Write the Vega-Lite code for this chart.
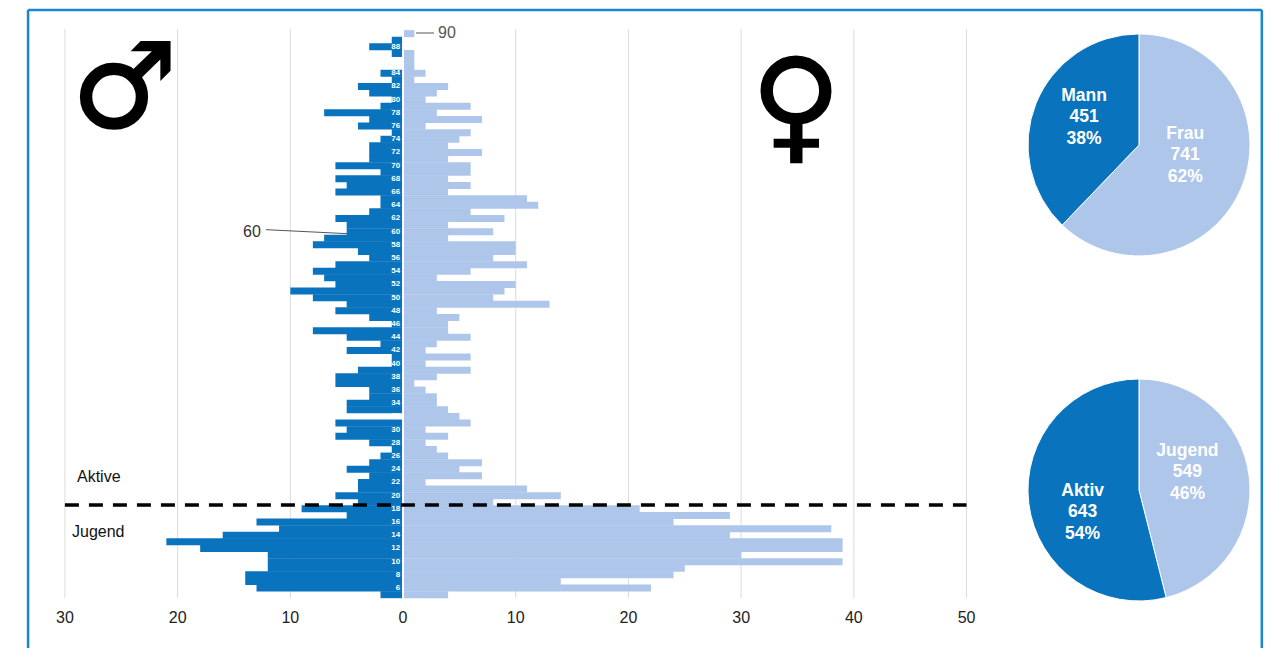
{"$schema":"https://vega.github.io/schema/vega-lite/v6.json","width":1266,"height":648,"padding":0,"autosize":"none","background":"white",
"config":{"view":{"stroke":null},"font":"Liberation Sans"},
"datasets":{
"ticks":[{"tick":-30,"label":"30"},{"tick":-20,"label":"20"},{"tick":-10,"label":"10"},{"tick":0,"label":"0"},{"tick":10,"label":"10"},{"tick":20,"label":"20"},{"tick":30,"label":"30"},{"tick":40,"label":"40"},{"tick":50,"label":"50"}],
"pies":[{"pie":"Geschlecht","rank":1,"group":"Frau","count":741,"label":"Frau\n741\n62%"},{"pie":"Geschlecht","rank":2,"group":"Mann","count":451,"label":"Mann\n451\n38%"},{"pie":"Alter","rank":1,"group":"Jugend","count":549,"label":"Jugend\n549\n46%"},{"pie":"Alter","rank":2,"group":"Aktiv","count":643,"label":"Aktiv\n643\n54%"}],
"ages":[
{"age":5,"sex":"Mann","value":-2},{"age":6,"sex":"Mann","value":-13},{"age":7,"sex":"Mann","value":-14},{"age":8,"sex":"Mann","value":-14},{"age":9,"sex":"Mann","value":-12},{"age":10,"sex":"Mann","value":-12},{"age":11,"sex":"Mann","value":-12},{"age":12,"sex":"Mann","value":-18},{"age":13,"sex":"Mann","value":-21},{"age":14,"sex":"Mann","value":-16},{"age":15,"sex":"Mann","value":-11},{"age":16,"sex":"Mann","value":-13},{"age":17,"sex":"Mann","value":-5},{"age":18,"sex":"Mann","value":-9},{"age":19,"sex":"Mann","value":-4},{"age":20,"sex":"Mann","value":-6},{"age":21,"sex":"Mann","value":-4},{"age":22,"sex":"Mann","value":-4},{"age":23,"sex":"Mann","value":-3},{"age":24,"sex":"Mann","value":-5},{"age":25,"sex":"Mann","value":-3},{"age":26,"sex":"Mann","value":-2},{"age":27,"sex":"Mann","value":-1},{"age":28,"sex":"Mann","value":-3},{"age":29,"sex":"Mann","value":-6},{"age":30,"sex":"Mann","value":-5},{"age":31,"sex":"Mann","value":-6},{"age":32,"sex":"Mann","value":0},{"age":33,"sex":"Mann","value":-5},{"age":34,"sex":"Mann","value":-5},{"age":35,"sex":"Mann","value":-3},{"age":36,"sex":"Mann","value":-3},{"age":37,"sex":"Mann","value":-6},{"age":38,"sex":"Mann","value":-6},{"age":39,"sex":"Mann","value":-4},{"age":40,"sex":"Mann","value":-1},{"age":41,"sex":"Mann","value":-1},{"age":42,"sex":"Mann","value":-5},{"age":43,"sex":"Mann","value":-2},{"age":44,"sex":"Mann","value":-5},{"age":45,"sex":"Mann","value":-8},{"age":46,"sex":"Mann","value":-1},{"age":47,"sex":"Mann","value":-3},{"age":48,"sex":"Mann","value":-6},{"age":49,"sex":"Mann","value":-5},{"age":50,"sex":"Mann","value":-8},{"age":51,"sex":"Mann","value":-10},{"age":52,"sex":"Mann","value":-6},{"age":53,"sex":"Mann","value":-7},{"age":54,"sex":"Mann","value":-8},{"age":55,"sex":"Mann","value":-6},{"age":56,"sex":"Mann","value":-3},{"age":57,"sex":"Mann","value":-4},{"age":58,"sex":"Mann","value":-8},{"age":59,"sex":"Mann","value":-7},{"age":60,"sex":"Mann","value":-5},{"age":61,"sex":"Mann","value":-5},{"age":62,"sex":"Mann","value":-6},{"age":63,"sex":"Mann","value":-3},{"age":64,"sex":"Mann","value":-2},{"age":65,"sex":"Mann","value":-2},{"age":66,"sex":"Mann","value":-6},{"age":67,"sex":"Mann","value":-5},{"age":68,"sex":"Mann","value":-6},{"age":69,"sex":"Mann","value":-2},{"age":70,"sex":"Mann","value":-6},{"age":71,"sex":"Mann","value":-3},{"age":72,"sex":"Mann","value":-3},{"age":73,"sex":"Mann","value":-3},{"age":74,"sex":"Mann","value":-2},{"age":75,"sex":"Mann","value":-1},{"age":76,"sex":"Mann","value":-4},{"age":77,"sex":"Mann","value":-3},{"age":78,"sex":"Mann","value":-7},{"age":79,"sex":"Mann","value":-2},{"age":80,"sex":"Mann","value":-1},{"age":81,"sex":"Mann","value":-3},{"age":82,"sex":"Mann","value":-4},{"age":83,"sex":"Mann","value":-1},{"age":84,"sex":"Mann","value":-2},{"age":85,"sex":"Mann","value":0},{"age":86,"sex":"Mann","value":0},{"age":87,"sex":"Mann","value":-1},{"age":88,"sex":"Mann","value":-3},{"age":89,"sex":"Mann","value":-1},{"age":90,"sex":"Mann","value":0},
{"age":5,"sex":"Frau","value":4},{"age":6,"sex":"Frau","value":22},{"age":7,"sex":"Frau","value":14},{"age":8,"sex":"Frau","value":24},{"age":9,"sex":"Frau","value":25},{"age":10,"sex":"Frau","value":39},{"age":11,"sex":"Frau","value":30},{"age":12,"sex":"Frau","value":39},{"age":13,"sex":"Frau","value":39},{"age":14,"sex":"Frau","value":29},{"age":15,"sex":"Frau","value":38},{"age":16,"sex":"Frau","value":24},{"age":17,"sex":"Frau","value":29},{"age":18,"sex":"Frau","value":21},{"age":19,"sex":"Frau","value":8},{"age":20,"sex":"Frau","value":14},{"age":21,"sex":"Frau","value":11},{"age":22,"sex":"Frau","value":2},{"age":23,"sex":"Frau","value":7},{"age":24,"sex":"Frau","value":5},{"age":25,"sex":"Frau","value":7},{"age":26,"sex":"Frau","value":4},{"age":27,"sex":"Frau","value":3},{"age":28,"sex":"Frau","value":2},{"age":29,"sex":"Frau","value":4},{"age":30,"sex":"Frau","value":2},{"age":31,"sex":"Frau","value":6},{"age":32,"sex":"Frau","value":5},{"age":33,"sex":"Frau","value":4},{"age":34,"sex":"Frau","value":3},{"age":35,"sex":"Frau","value":3},{"age":36,"sex":"Frau","value":2},{"age":37,"sex":"Frau","value":1},{"age":38,"sex":"Frau","value":3},{"age":39,"sex":"Frau","value":6},{"age":40,"sex":"Frau","value":2},{"age":41,"sex":"Frau","value":6},{"age":42,"sex":"Frau","value":2},{"age":43,"sex":"Frau","value":3},{"age":44,"sex":"Frau","value":6},{"age":45,"sex":"Frau","value":4},{"age":46,"sex":"Frau","value":4},{"age":47,"sex":"Frau","value":5},{"age":48,"sex":"Frau","value":3},{"age":49,"sex":"Frau","value":13},{"age":50,"sex":"Frau","value":8},{"age":51,"sex":"Frau","value":9},{"age":52,"sex":"Frau","value":10},{"age":53,"sex":"Frau","value":3},{"age":54,"sex":"Frau","value":6},{"age":55,"sex":"Frau","value":11},{"age":56,"sex":"Frau","value":8},{"age":57,"sex":"Frau","value":10},{"age":58,"sex":"Frau","value":10},{"age":59,"sex":"Frau","value":4},{"age":60,"sex":"Frau","value":8},{"age":61,"sex":"Frau","value":4},{"age":62,"sex":"Frau","value":9},{"age":63,"sex":"Frau","value":6},{"age":64,"sex":"Frau","value":12},{"age":65,"sex":"Frau","value":11},{"age":66,"sex":"Frau","value":4},{"age":67,"sex":"Frau","value":6},{"age":68,"sex":"Frau","value":4},{"age":69,"sex":"Frau","value":6},{"age":70,"sex":"Frau","value":6},{"age":71,"sex":"Frau","value":4},{"age":72,"sex":"Frau","value":7},{"age":73,"sex":"Frau","value":4},{"age":74,"sex":"Frau","value":5},{"age":75,"sex":"Frau","value":6},{"age":76,"sex":"Frau","value":2},{"age":77,"sex":"Frau","value":7},{"age":78,"sex":"Frau","value":3},{"age":79,"sex":"Frau","value":6},{"age":80,"sex":"Frau","value":2},{"age":81,"sex":"Frau","value":3},{"age":82,"sex":"Frau","value":4},{"age":83,"sex":"Frau","value":1},{"age":84,"sex":"Frau","value":2},{"age":85,"sex":"Frau","value":1},{"age":86,"sex":"Frau","value":1},{"age":87,"sex":"Frau","value":1},{"age":88,"sex":"Frau","value":0},{"age":89,"sex":"Frau","value":0},{"age":90,"sex":"Frau","value":1}
]},
"resolve":{"scale":{"theta":"independent"}},
"layer":[
{"data":{"name":"ticks"},"mark":{"type":"rule","color":"#dcdcdc","strokeWidth":1},
 "encoding":{"x":{"field":"tick","type":"quantitative","scale":{"domain":[-35.76,76.57],"nice":false,"zero":false},"axis":null},
 "y":{"datum":90.7,"type":"quantitative","scale":{"domain":[-3.08,95.1],"nice":false,"zero":false,"padding":0},"axis":null},"y2":{"datum":4.5}}},
{"data":{"name":"ticks"},"mark":{"type":"text","fontSize":16,"color":"#222"},"encoding":{"x":{"field":"tick","type":"quantitative"},"y":{"datum":1.47},"text":{"field":"label"}}},
{"data":{"name":"ages"},"mark":{"type":"bar","orient":"horizontal","size":7},
 "encoding":{"y":{"field":"age","type":"quantitative"},"x":{"field":"value","type":"quantitative"},"color":{"field":"sex","type":"nominal","scale":{"domain":["Mann","Frau","Aktiv","Jugend"],"range":["#0a73bd","#aec6ea","#0a73bd","#aec6ea"]},"legend":null}}},
{"data":{"values":[{"edge":"achse"}]},"mark":{"type":"rule","color":"white","strokeWidth":2},"encoding":{"x":{"datum":0},"y":{"datum":91},"y2":{"datum":4.5}}},
{"data":{"name":"ages"},"transform":[{"filter":"datum.sex=='Mann' && datum.age%2==0"}],"mark":{"type":"text","align":"right","baseline":"middle","fontSize":8,"fontWeight":"bold","color":"white"},"encoding":{"x":{"datum":-0.25},"y":{"field":"age","type":"quantitative"},"text":{"field":"age","type":"nominal"}}},
{"data":{"values":[{"edge":"grenze"}]},"mark":{"type":"rule","color":"black","strokeWidth":3.5,"strokeDash":[14,10]},"encoding":{"x":{"datum":-30},"x2":{"datum":50},"y":{"datum":18.6}}},
{"data":{"values":[{"edge":"60"}]},"mark":{"type":"rule","color":"#555","strokeWidth":1},"encoding":{"x":{"datum":-12.16},"x2":{"datum":-4.97},"y":{"datum":60.3},"y2":{"datum":59.7}}},
{"data":{"values":[{"edge":"90"}]},"mark":{"type":"rule","color":"#555","strokeWidth":1},"encoding":{"x":{"datum":1.15},"x2":{"datum":2.75},"y":{"datum":90.1}}},
{"data":{"values":[{"t":"60"}]},"mark":{"type":"text","fontSize":16,"color":"#333"},"encoding":{"x":{"datum":-13.4},"y":{"datum":60},"text":{"field":"t"}}},
{"data":{"values":[{"t":"90"}]},"mark":{"type":"text","fontSize":16,"color":"#555"},"encoding":{"x":{"datum":3.9},"y":{"datum":90.1},"text":{"field":"t"}}},
{"data":{"values":[{"t":"Aktive"}]},"mark":{"type":"text","fontSize":16,"align":"left","color":"#111"},"encoding":{"x":{"datum":-28.93},"y":{"datum":22.83},"text":{"field":"t"}}},
{"data":{"values":[{"t":"Jugend"}]},"mark":{"type":"text","fontSize":16,"align":"left","color":"#111"},"encoding":{"x":{"datum":-29.37},"y":{"datum":14.5},"text":{"field":"t"}}},
{"data":{"values":[{"t":"♂"}]},"mark":{"type":"text","fontSize":118,"fontWeight":"bold","font":"DejaVu Sans","color":"black","stroke":"black","strokeWidth":2},"encoding":{"x":{"datum":-24.72},"y":{"datum":81.14},"text":{"field":"t"}}},
{"data":{"values":[{"t":"♀"}]},"mark":{"type":"text","fontSize":124,"fontWeight":"bold","font":"DejaVu Sans","color":"black","stroke":"black","strokeWidth":1.5},"encoding":{"x":{"datum":34.87},"y":{"datum":78.44},"text":{"field":"t"}}},
{"data":{"name":"pies"},"transform":[{"filter":"datum.pie=='Geschlecht'"}],"mark":{"type":"arc","radius":111,"stroke":"white","strokeWidth":1},"encoding":{"x":{"datum":65.3},"y":{"datum":73.14},"theta":{"field":"count","type":"quantitative"},"order":{"field":"rank"},"color":{"field":"group","type":"nominal"}}},
{"data":{"name":"pies"},"transform":[{"filter":"datum.pie=='Alter'"}],"mark":{"type":"arc","radius":111,"stroke":"white","strokeWidth":1},"encoding":{"x":{"datum":65.3},"y":{"datum":20.86},"theta":{"field":"count","type":"quantitative"},"order":{"field":"rank"},"color":{"field":"group","type":"nominal"}}},
{"data":{"name":"pies"},"transform":[{"filter":"datum.group=='Mann'"}],"mark":{"type":"text","lineBreak":"\n","lineHeight":21.5,"fontSize":17.5,"fontWeight":"bold","color":"white"},"encoding":{"x":{"datum":60.43},"y":{"datum":80.56},"text":{"field":"label"}}},
{"data":{"name":"pies"},"transform":[{"filter":"datum.group=='Frau'"}],"mark":{"type":"text","lineBreak":"\n","lineHeight":21.5,"fontSize":17.5,"fontWeight":"bold","color":"white"},"encoding":{"x":{"datum":69.4},"y":{"datum":74.8},"text":{"field":"label"}}},
{"data":{"name":"pies"},"transform":[{"filter":"datum.group=='Jugend'"}],"mark":{"type":"text","lineBreak":"\n","lineHeight":21.5,"fontSize":17.5,"fontWeight":"bold","color":"white"},"encoding":{"x":{"datum":69.6},"y":{"datum":26.77},"text":{"field":"label"}}},
{"data":{"name":"pies"},"transform":[{"filter":"datum.group=='Aktiv'"}],"mark":{"type":"text","lineBreak":"\n","lineHeight":21.5,"fontSize":17.5,"fontWeight":"bold","color":"white"},"encoding":{"x":{"datum":60.3},"y":{"datum":20.71},"text":{"field":"label"}}},
{"data":{"values":[{"edge":"rahmen-oben"}]},"mark":{"type":"rule","color":"#1b86d0","strokeWidth":2.5},"encoding":{"x":{"datum":-33.27},"x2":{"datum":76.2},"y":{"datum":93.6}}},
{"data":{"values":[{"edge":"rahmen-links"}]},"mark":{"type":"rule","color":"#1b86d0","strokeWidth":2.5},"encoding":{"x":{"datum":-33.27},"y":{"datum":93.6},"y2":{"datum":-3.08}}},
{"data":{"values":[{"edge":"rahmen-rechts"}]},"mark":{"type":"rule","color":"#1b86d0","strokeWidth":2.5},"encoding":{"x":{"datum":76.2},"y":{"datum":93.6},"y2":{"datum":-3.08}}}
]}
